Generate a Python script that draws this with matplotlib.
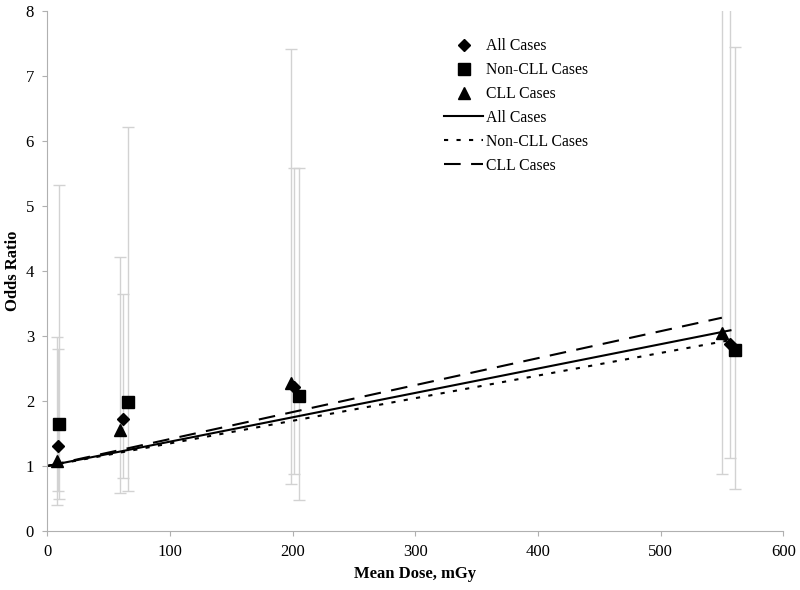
"""odds ratio vs mean dose, all / non-CLL / CLL cases with linear ERR fits"""

import numpy as np
import matplotlib
matplotlib.use('Agg')
import matplotlib.pyplot as plt

plt.rcParams['font.family'] = ['Liberation Serif', 'DejaVu Serif']

# ========================
# Data
# =======================
# All cases
all_dose = [9, 62, 201, 557]
all_or = [1.31, 1.72, 2.22, 2.88]
all_lo = [0.62, 0.82, 0.88, 1.13]
all_hi = [2.80, 3.65, 5.58, 8.2]

# Non-CLL cases
non_dose = [10, 66, 205, 561]
non_or = [1.65, 1.98, 2.08, 2.78]
non_lo = [0.50, 0.62, 0.47, 0.65]
non_hi = [5.33, 6.22, 5.58, 7.45]

# CLL cases
cll_dose = [8, 59, 199, 550]
cll_or = [1.07, 1.55, 2.28, 3.05]
cll_lo = [0.40, 0.58, 0.72, 0.88]
cll_hi = [2.98, 4.21, 7.42, 8.5]

# linear fits OR = 1 + beta * dose
beta_all = 0.00375
beta_non = 0.00348
beta_cll = 0.00415

labels = ['All Cases', 'Non-CLL Cases', 'CLL Cases']

# =====================
# Plot
# =====================
fig = plt.figure(figsize=(8, 5.9), dpi=100)
ax = fig.add_axes([0.059, 0.1, 0.92, 0.881])

err_kw = dict(fmt='none', ecolor='#d2d2d2', elinewidth=1, capsize=4, capthick=1, zorder=1)
for d, o, lo, hi in [(all_dose, all_or, all_lo, all_hi),
                     (non_dose, non_or, non_lo, non_hi),
                     (cll_dose, cll_or, cll_lo, cll_hi)]:
    o = np.array(o)
    yerr = [o - np.array(lo), np.array(hi) - o]
    ax.errorbar(d, o, yerr=yerr, **err_kw)

h1, = ax.plot(all_dose, all_or, 'D', color='black', markersize=6, linestyle='none', zorder=3)
h2, = ax.plot(non_dose, non_or, 's', color='black', markersize=8, linestyle='none', zorder=3)
h3, = ax.plot(cll_dose, cll_or, '^', color='black', markersize=8, linestyle='none', zorder=3)

x_all = np.array([0, max(all_dose)])
x_non = np.array([0, max(non_dose)])
x_cll = np.array([0, max(cll_dose)])
l1, = ax.plot(x_all, 1 + beta_all * x_all, color='black', linewidth=1.5, zorder=2)
l2, = ax.plot(x_non, 1 + beta_non * x_non, color='black', linewidth=1.5, linestyle=(0, (2, 4)), zorder=2)
l3, = ax.plot(x_cll, 1 + beta_cll * x_cll, color='black', linewidth=1.5, linestyle=(0, (8, 5)), zorder=2)

ax.set_xlim(0, 600)
ax.set_ylim(0, 8)
ax.set_xticks(range(0, 601, 100))
ax.set_yticks(range(0, 9))
ax.tick_params(axis='both', color='#b0b0b0', length=3.5, labelsize=12, pad=6)
for s in ['top', 'right']:
    ax.spines[s].set_visible(False)
for s in ['left', 'bottom']:
    ax.spines[s].set_color('#b0b0b0')

ax.set_xlabel('Mean Dose, mGy', fontsize=12, fontweight='bold', labelpad=4)
ax.set_ylabel('Odds Ratio', fontsize=12, fontweight='bold', labelpad=3)

ax.legend([h1, h2, h3, l1, l2, l3], labels + labels, loc='upper left',
          bbox_to_anchor=(0.52, 0.975), frameon=False, fontsize=11.3,
          handlelength=2.5, labelspacing=0.5, handletextpad=0.2)

plt.savefig('out.png', dpi=100)
plt.close()
